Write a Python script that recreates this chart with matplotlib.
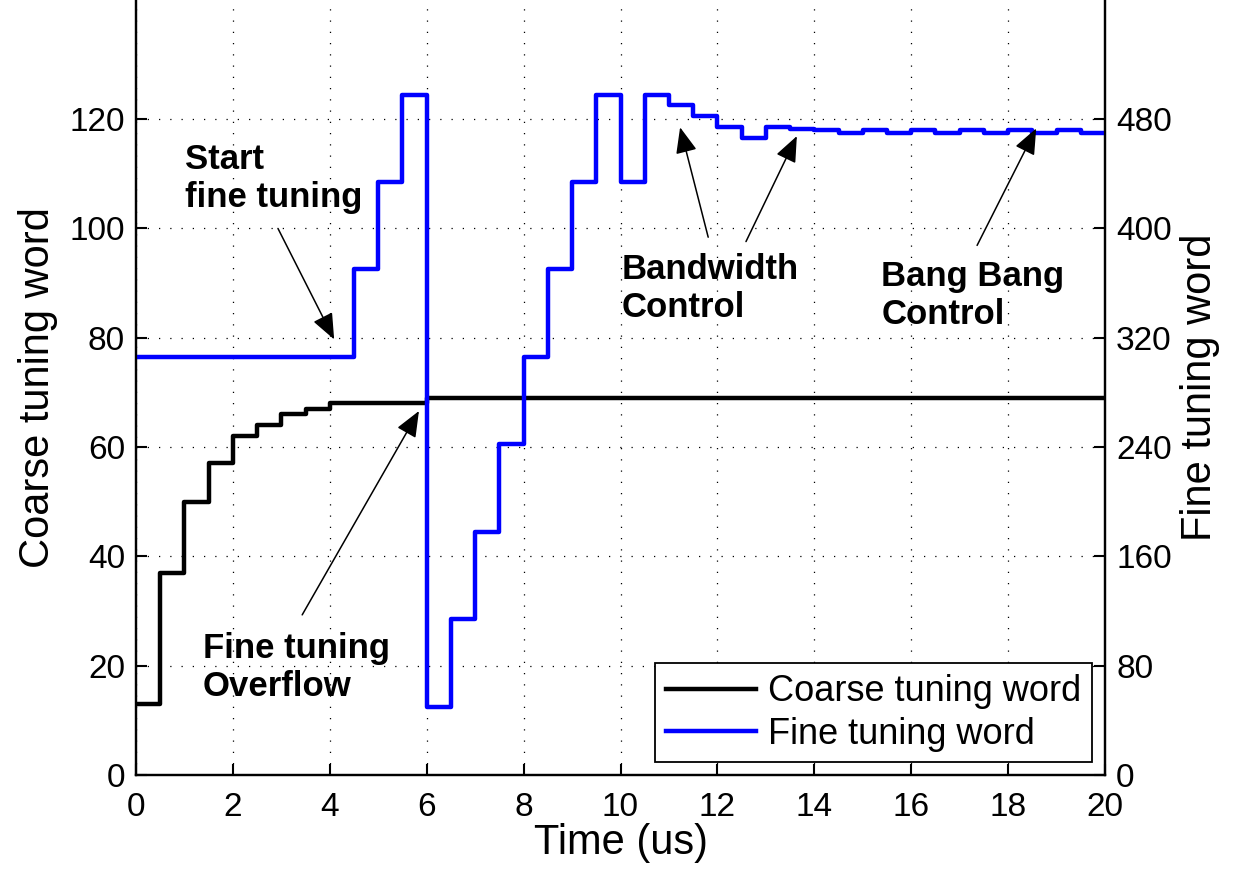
import matplotlib
matplotlib.use('Agg')
import matplotlib.pyplot as plt

plt.rcParams['font.family'] = ['Liberation Sans', 'DejaVu Sans']

# coarse tuning word (left axis), step changes at these times
coarse_t = [0, 0.5, 1, 1.5, 2, 2.5, 3, 3.5, 4, 6, 20]
coarse_v = [13, 37, 50, 57, 62, 64, 66, 67, 68, 69, 69]

# fine tuning word (right axis)
fine_t = [0, 4.5, 5, 5.5, 6, 6.5, 7, 7.5, 8, 8.5, 9, 9.5, 10, 10.5, 11, 11.5,
          12, 12.5, 13, 13.5, 14, 14.5, 15, 15.5, 16, 16.5, 17, 17.5, 18, 18.5,
          19, 19.5, 20]
fine_v = [306, 370, 434, 498, 50, 114, 178, 242, 306, 370, 434, 498, 434, 498,
          490, 482, 474, 466, 474, 473, 472, 470, 472, 470, 472, 470, 472, 470,
          472, 470, 472, 470, 470]

xticks = [0, 2, 4, 6, 8, 10, 12, 14, 16, 18, 20]
left_ticks = [0, 20, 40, 60, 80, 100, 120]
right_ticks = [0, 80, 160, 240, 320, 400, 480]

W, H = 1239, 872
fig = plt.figure(figsize=(W / 100, H / 100), dpi=100)
ax = fig.add_axes([136 / W, 1 - 775 / H, (1105 - 136) / W, 775 / H])
ax2 = ax.twinx()

l1, = ax.step(coarse_t, coarse_v, where='post', color='black', lw=3.2,
              label='Coarse tuning word')
l2, = ax2.step(fine_t, fine_v, where='post', color='#0000ff', lw=3.2,
               label='Fine tuning word')

ax.set_xlim(0, 20)
ax.set_ylim(0, 141.8)
ax2.set_ylim(0, 141.8 * 4)
ax.set_xticks(xticks)
ax.set_yticks(left_ticks)
ax2.set_yticks(right_ticks)

ax.grid(True, color='black', linestyle=(0, (1, 8)), lw=0.9)

for a in (ax, ax2):
    for s in a.spines.values():
        s.set_linewidth(1.6)
    a.spines['top'].set_visible(False)
ax.tick_params(direction='in', length=8, width=1.5, labelsize=24, pad=8)
ax.tick_params(axis='x', pad=12)
ax2.tick_params(direction='in', length=8, width=1.5, labelsize=24, pad=8)

ax.set_xlabel('Time (us)', fontsize=30, labelpad=0)
ax.set_ylabel('Coarse tuning word', fontsize=30, labelpad=8)
ax2.set_ylabel('Fine tuning word', fontsize=30, labelpad=6)

leg = ax2.legend(handles=[l1, l2], loc='lower right', fontsize=26,
                 frameon=True, fancybox=False, edgecolor='black',
                 framealpha=1, borderaxespad=0.35, handlelength=2.5,
                 handletextpad=0.33, labelspacing=0.2, borderpad=0.3)
leg.get_frame().set_linewidth(1.3)

bold = dict(fontsize=25, fontweight='bold', va='top', ha='left',
            linespacing=1.2)
ax.text(1.01, 115.6, 'Start\nfine tuning', **bold)
ax.text(1.38, 26.2, 'Fine tuning\nOverflow', **bold)
ax.text(10.03, 95.6, 'Bandwidth\nControl', **bold)
ax.text(15.38, 94.2, 'Bang Bang\nControl', **bold)

arrow = dict(arrowstyle='-|>,head_length=0.8,head_width=0.33', color='black',
             lw=1.1, shrinkA=0, shrinkB=0, mutation_scale=20)
arrows = [((2.93, 100.0), (4.09, 79.7)),
          ((3.43, 29.3), (5.84, 66.6)),
          ((11.81, 98.4), (11.23, 118.5)),
          ((12.59, 97.6), (13.64, 116.9)),
          ((17.36, 96.9), (18.58, 118.3))]
for tail, head in arrows:
    ax2.annotate('', xy=(head[0], head[1] * 4), xytext=(tail[0], tail[1] * 4),
                 arrowprops=arrow)

fig.savefig('out.png', dpi=100)
